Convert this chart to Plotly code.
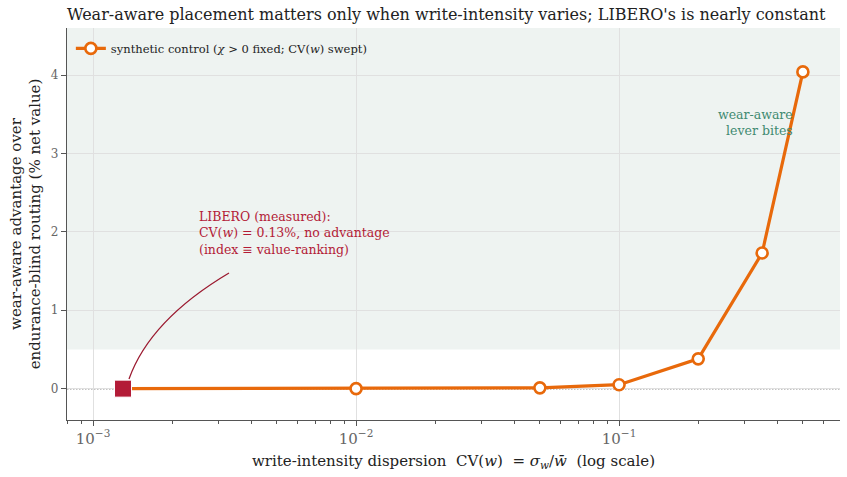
import plotly.graph_objects as go
import numpy as np

# data
cv_synthetic = [0.0013, 0.01, 0.05, 0.1, 0.2, 0.35, 0.5]
adv_synthetic = [0.0, 0.0, 0.01, 0.05, 0.38, 1.73, 4.04]
libero_cv = [0.0013]
libero_adv = [0.0]
shade_floor = 0.5

ORANGE = "#e8690b"
CRIMSON = "#b31b37"
TEAL = "#3f8a70"
FONT = "DejaVu Serif"

fig = go.Figure()

fig.add_trace(go.Scatter(
    x=cv_synthetic, y=adv_synthetic, mode="lines+markers",
    name="synthetic control (<i>χ</i> > 0 fixed; CV(<i>w</i>) swept)",
    line=dict(color=ORANGE, width=3.2),
    marker=dict(symbol="circle", size=11, color="white", line=dict(color=ORANGE, width=2.6)),
))
fig.add_trace(go.Scatter(
    x=libero_cv, y=libero_adv, mode="markers", showlegend=False,
    marker=dict(symbol="square", size=17, color=CRIMSON, line=dict(color="white", width=1)),
))

xr = [np.log10(0.000796), np.log10(0.692)]
yr = [-0.4, 4.6]

# shaded region
fig.add_shape(type="rect", xref="paper", yref="y", x0=0, x1=1, y0=shade_floor, y1=yr[1],
              fillcolor="#eef3f1", line=dict(width=0), layer="below")
# zero dotted line
fig.add_shape(type="line", xref="paper", yref="y", x0=0, x1=1, y0=0, y1=0,
              line=dict(color="#111", width=1.2, dash="1.5px,1.5px"), layer="between")

# curved arrow (paper coords)
def px(xp): return (xp - 67) / 773
def py(yp): return (420 - yp) / 392
fig.add_shape(type="path", xref="paper", yref="paper",
              path=f"M {px(229)} {py(273)} Q {px(150)} {py(320)} {px(129)} {py(379)}",
              line=dict(color="#9b1a30", width=1.3))

fig.add_annotation(x=np.log10(0.00248), y=1.98, xref="x", yref="y",
                   text="LIBERO (measured):<br>CV(<i>w</i>) = 0.13%, no advantage<br>(index ≡ value-ranking)",
                   showarrow=False, align="left", xanchor="left", yanchor="middle",
                   font=dict(family=FONT, size=12.5, color=CRIMSON))
fig.add_annotation(x=np.log10(0.465), y=3.4, xref="x", yref="y",
                   text="wear-aware<br>lever bites", showarrow=False, align="right",
                   xanchor="right", yanchor="middle",
                   font=dict(family=FONT, size=12.5, color=TEAL))

fig.update_layout(
    width=847, height=477,
    margin=dict(l=67, r=7, t=28, b=57),
    paper_bgcolor="white", plot_bgcolor="white",
    font=dict(family=FONT, color="#333"),
    title=dict(text="Wear-aware placement matters only when write-intensity varies; LIBERO's is nearly constant",
               x=67/847, xanchor="left", y=0.97, yanchor="middle",
               font=dict(family=FONT, size=16, color="#222")),
    showlegend=True,
    legend=dict(x=0.005, y=0.985, xanchor="left", yanchor="top", bgcolor="rgba(0,0,0,0)",
                font=dict(family=FONT, size=11.5, color="#222")),
    xaxis=dict(type="log", range=xr, dtick=1, exponentformat="power",
               showgrid=True, gridcolor="#e0e0e0", gridwidth=1,
               showline=True, linecolor="#555", linewidth=1.3,
               ticks="outside", ticklen=5, tickcolor="#555", tickfont=dict(size=12, color="#666"),
               minor=dict(ticks="outside", ticklen=3, tickcolor="#555", showgrid=False),
               zeroline=False,
               title=dict(text="write-intensity dispersion  CV(<i>w</i>)  = <i>σ<sub>w</sub></i>/<i>w̄</i>  (log scale)",
                          font=dict(size=15, color="#222"), standoff=8)),
    yaxis=dict(range=yr, tickvals=[0, 1, 2, 3, 4],
               showgrid=True, gridcolor="#e0e0e0", gridwidth=1,
               showline=True, linecolor="#555", linewidth=1.3,
               ticks="outside", ticklen=5, tickcolor="#555", tickfont=dict(size=12, color="#666"),
               zeroline=False,
               title=dict(text="wear-aware advantage over<br>endurance-blind routing (% net value)",
                          font=dict(size=15, color="#222"), standoff=6)),
)

fig.write_html("out.html")
